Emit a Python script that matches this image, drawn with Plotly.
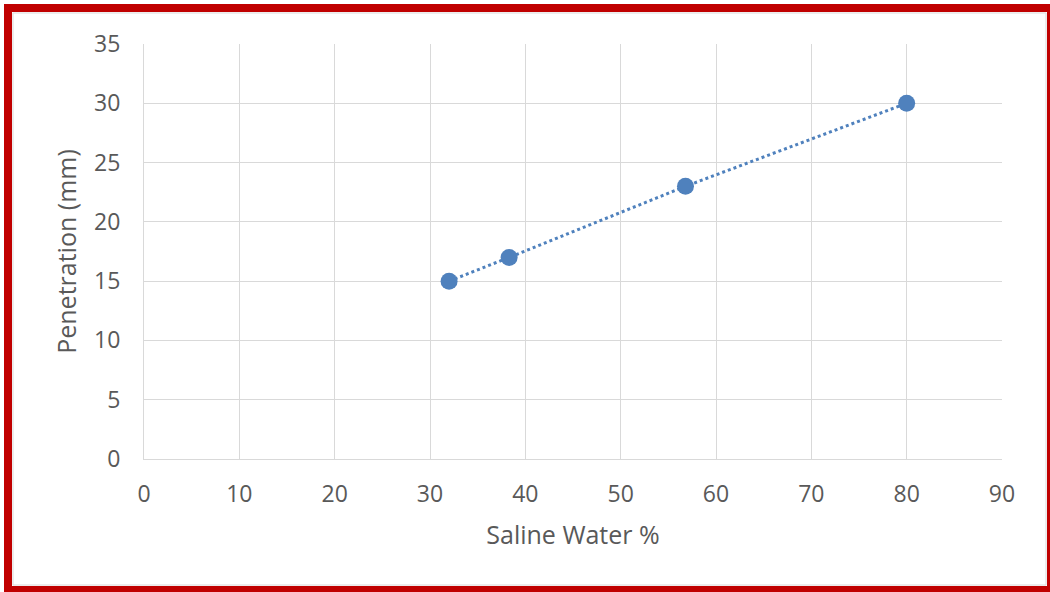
import plotly.graph_objects as go

saline_water = [32, 38.3, 56.8, 80]
penetration = [15, 17, 23, 30]
x_ticks = [0, 10, 20, 30, 40, 50, 60, 70, 80, 90]
y_ticks = [0, 5, 10, 15, 20, 25, 30, 35]

BLUE = "#4F81BD"
FONT = "Open Sans"

fig = go.Figure()
fig.add_trace(go.Scatter(
    x=saline_water, y=penetration, mode="lines+markers",
    line=dict(color=BLUE, width=3, dash="dot"),
    marker=dict(color=BLUE, size=17),
    showlegend=False, cliponaxis=False,
))

L, R, T, B = 144, 48, 44, 133
W, H = 1050, 592
pw, ph = W - L - R, H - T - B

def px(x):
    return (x - L) / pw

def py(y):
    return (H - B - y) / ph

fig.update_layout(
    width=W, height=H,
    margin=dict(l=L, r=R, t=T, b=B),
    paper_bgcolor="white", plot_bgcolor="white",
    font=dict(family=FONT, color="#595959", size=24),
    xaxis=dict(range=[0, 90], tickvals=x_ticks, showgrid=True, gridcolor="#d9d9d9",
               gridwidth=1, zeroline=False, showline=True, linecolor="#d9d9d9",
               mirror=False, ticks="", ticklabelstandoff=14,
               tickfont=dict(size=23),
               title=dict(text="Saline Water %", font=dict(size=25, color="#595959"), standoff=18)),
    yaxis=dict(range=[0, 35], tickvals=y_ticks, showgrid=True, gridcolor="#d9d9d9",
               gridwidth=1, zeroline=False, showline=True, linecolor="#d9d9d9",
               ticks="", ticklabelstandoff=18,
               tickfont=dict(size=23),
               title=dict(text="Penetration (mm)", font=dict(size=25, color="#595959"), standoff=10)),
    shapes=[
        dict(type="rect", xref="paper", yref="paper",
             x0=px(13), x1=px(1046), y0=py(585), y1=py(13),
             line=dict(color="#d9d9d9", width=1), layer="below"),
        dict(type="rect", xref="paper", yref="paper",
             x0=px(8), x1=px(1051), y0=py(590), y1=py(8),
             line=dict(color="#C00000", width=8)),
    ],
)

fig.write_html("out.html")
